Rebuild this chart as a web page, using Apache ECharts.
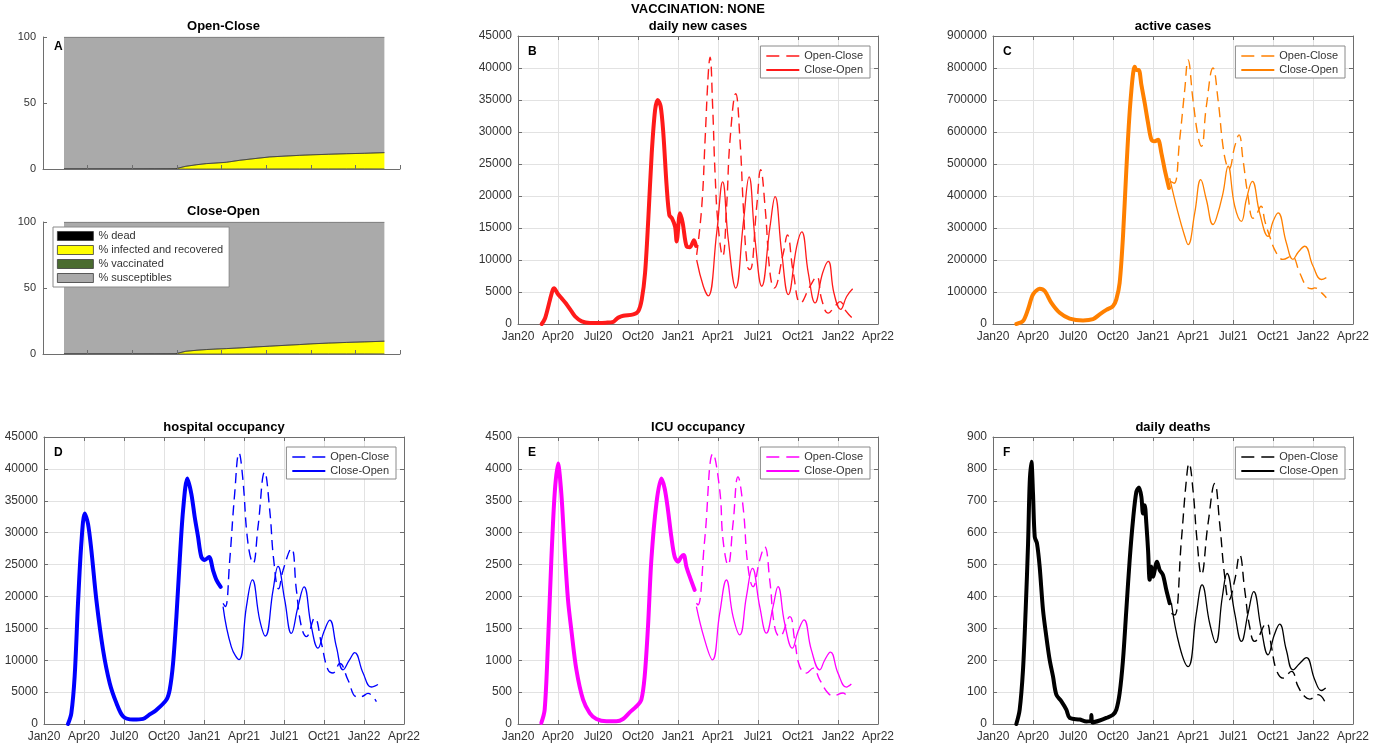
<!DOCTYPE html>
<html><head><meta charset="utf-8">
<script src="https://cdn.jsdelivr.net/npm/echarts@6/dist/echarts.min.js"></script>
<style>html,body{margin:0;padding:0;background:#fff;}#chart{width:1384px;height:748px;}</style>
</head><body><div id="chart"></div>
<script>
// ================= DATA =================
// x values of panels B-F: months since 1 Jan 2020
const tickLabels = ['Jan20','Apr20','Jul20','Oct20','Jan21','Apr21','Jul21','Oct21','Jan22','Apr22'];

// B daily new cases
const casesHist = [[1.78,0],[2.03,900],[2.4,3800],[2.6,5300],[2.72,5600],[2.85,5200],[3.02,4600],[3.28,4000],[3.6,3200],[4.0,2000],[4.28,1200],[4.78,400],[5.4,150],[6.0,150],[6.6,200],[7.15,350],[7.4,800],[7.52,1000],[7.9,1300],[8.65,1500],[9.02,2000],[9.28,3800],[9.53,8000],[9.77,16300],[10.03,26700],[10.28,33400],[10.48,35000],[10.7,34000],[10.9,29800],[11.15,21500],[11.35,17000],[11.55,16500],[11.78,15200],[11.9,12900],[12.15,17300],[12.35,15800],[12.65,12100],[12.9,12000],[13.2,13100],[13.35,12200]];
const casesOpenClose = [[13.4,10800],[13.78,18300],[14.03,28700],[14.27,39100],[14.4,41700],[14.6,33900],[14.78,23500],[15.02,15200],[15.35,10600],[15.65,18500],[15.9,28700],[16.33,36000],[16.65,28700],[16.9,18300],[17.2,9000],[17.4,8500],[17.9,18300],[18.2,24100],[18.53,18300],[18.9,8000],[19.2,5600],[19.9,11100],[20.2,13900],[20.65,8000],[21.2,3300],[21.9,5900],[22.4,7400],[22.78,3800],[23.27,1700],[23.78,2800],[24.15,3500],[24.6,2000],[25.03,1000]];
const casesCloseOpen = [[13.4,10000],[13.9,5900],[14.27,4400],[14.9,14200],[15.35,22200],[15.77,13200],[16.33,5600],[16.9,15800],[17.33,23000],[17.78,13200],[18.28,5900],[18.9,15200],[19.28,19900],[19.78,11100],[20.27,4600],[20.9,12100],[21.28,14400],[21.77,8000],[22.28,3300],[22.85,8000],[23.27,9800],[23.7,4800],[24.2,2300],[24.65,4300],[25.1,5500]];

// C active cases
const activeHist = [[1.75,0],[2.25,9000],[2.63,46000],[3.0,92000],[3.5,110000],[3.88,103000],[4.38,66000],[5.0,35000],[5.75,17000],[6.75,11000],[7.5,15000],[8.0,30000],[8.5,44000],[9.0,56000],[9.25,77000],[9.5,129000],[9.75,274000],[10.0,482000],[10.3,690000],[10.63,804000],[10.75,794000],[10.93,794000],[11.13,747000],[11.38,690000],[11.63,628000],[11.88,576000],[12.13,571000],[12.38,576000],[12.63,534000],[12.88,482000],[13.2,425000]];
const activeOpenClose = [[13.35,445000],[13.6,440000],[14.0,576000],[14.38,732000],[14.63,825000],[15.0,700000],[15.38,586000],[15.63,555000],[16.0,680000],[16.5,800000],[16.88,700000],[17.25,555000],[17.55,492000],[17.7,485000],[18.13,555000],[18.45,591000],[18.75,513000],[19.13,399000],[19.5,330000],[19.75,342000],[20.1,368000],[20.4,320000],[20.75,274000],[21.25,222000],[21.75,202000],[22.38,212000],[23.0,160000],[23.5,118000],[23.88,110000],[24.13,113000],[24.63,98000],[25.0,82000]];
const activeCloseOpen = [[13.25,456000],[13.88,347000],[14.38,274000],[14.63,248000],[15.13,347000],[15.58,451000],[16.0,389000],[16.5,311000],[16.75,330000],[17.25,409000],[17.63,493000],[18.13,368000],[18.63,321000],[19.0,389000],[19.45,446000],[20.0,347000],[20.63,274000],[21.0,320000],[21.38,347000],[22.0,254000],[22.5,202000],[22.9,225000],[23.38,243000],[24.0,181000],[24.63,139000],[25.0,145000]];

// D hospital occupancy
const hospHist = [[1.8,0],[2.05,1700],[2.3,7500],[2.55,18900],[2.8,28300],[3.05,33000],[3.3,31400],[3.55,27300],[3.93,19400],[4.43,11600],[4.93,6400],[5.43,3300],[5.93,1200],[6.68,700],[7.43,800],[7.93,1500],[8.43,2200],[9.18,3800],[9.43,5400],[9.68,9500],[9.93,16800],[10.18,25700],[10.43,33500],[10.75,38500],[11.05,36100],[11.3,32500],[11.55,29400],[11.8,26200],[12.05,25700],[12.38,26200],[12.68,24100],[12.93,22600],[13.25,21500]];
const hospOpenClose = [[13.43,18900],[13.6,18400],[13.93,25700],[14.3,36100],[14.63,42500],[14.9,38700],[15.3,28300],[15.68,25200],[16.05,30900],[16.55,39500],[16.93,33500],[17.23,25700],[17.6,21200],[17.93,24100],[18.55,27500],[18.93,21000],[19.3,15300],[19.68,13700],[20.3,16600],[20.8,12700],[21.3,8500],[21.68,8000],[22.18,9500],[22.8,6900],[23.43,4300],[23.8,4300],[24.3,4800],[24.93,3500]];
const hospCloseOpen = [[13.43,18400],[14.05,12100],[14.63,10100],[15.18,18400],[15.63,22600],[16.18,16300],[16.6,13800],[17.18,21000],[17.55,24700],[18.05,19500],[18.55,14200],[19.05,18400],[19.5,21500],[20.05,15300],[20.55,11900],[21.0,14500],[21.43,16300],[21.93,12100],[22.43,8500],[22.9,10000],[23.3,11200],[23.93,8000],[24.55,5800],[25.05,6200]];

// E ICU occupancy
const icuHist = [[1.75,16],[2.0,224],[2.25,1267],[2.5,2570],[2.75,3613],[3.0,4083],[3.25,3613],[3.5,2727],[3.75,1945],[4.0,1476],[4.38,850],[4.88,381],[5.38,172],[5.88,78],[6.63,42],[7.38,42],[7.88,78],[8.38,182],[8.88,276],[9.25,381],[9.5,746],[9.75,1528],[10.0,2570],[10.38,3457],[10.75,3848],[11.0,3692],[11.25,3353],[11.5,2935],[11.75,2623],[12.0,2544],[12.25,2623],[12.43,2649],[12.63,2466],[12.88,2310],[13.25,2101]];
const icuOpenClose = [[13.38,1893],[13.5,1867],[14.0,2884],[14.63,4241],[15.13,3667],[15.38,2884],[15.75,2493],[16.13,3146],[16.5,3875],[16.88,3406],[17.25,2467],[17.63,2154],[18.13,2571],[18.5,2779],[18.88,2258],[19.25,1527],[19.63,1371],[20.38,1684],[20.75,1319],[21.13,901],[21.63,798],[22.13,876],[22.63,693],[23.25,485],[23.63,443],[24.38,485],[24.75,407]];
const icuCloseOpen = [[13.38,1841],[14.0,1319],[14.58,1006],[15.13,1737],[15.63,2258],[16.13,1684],[16.63,1397],[17.13,1997],[17.58,2441],[18.13,1840],[18.63,1424],[19.13,1840],[19.5,2153],[20.0,1580],[20.58,1189],[21.0,1450],[21.45,1632],[22.0,1163],[22.63,850],[23.0,1000],[23.43,1127],[24.0,798],[24.63,579],[25.0,626]];

// F daily deaths
const deathHist = [[1.75,0],[2.0,45],[2.25,170],[2.45,358],[2.63,566],[2.75,754],[2.88,822],[3.0,723],[3.13,587],[3.3,566],[3.5,493],[3.75,358],[4.0,274],[4.25,201],[4.5,149],[4.75,92],[5.13,71],[5.5,45],[5.75,19],[6.5,14],[7.0,8],[7.35,10],[7.38,28],[7.45,5],[8.0,11],[8.5,19],[9.0,29],[9.25,45],[9.5,97],[9.75,201],[10.0,358],[10.25,514],[10.5,639],[10.75,728],[10.95,742],[11.13,712],[11.25,660],[11.38,686],[11.5,629],[11.63,545],[11.75,452],[11.88,493],[12.0,462],[12.3,509],[12.5,483],[12.75,467],[13.0,420],[13.25,379]];
const deathOpenClose = [[13.38,347],[13.63,342],[14.13,577],[14.5,764],[14.7,817],[15.0,733],[15.3,577],[15.63,468],[16.13,629],[16.63,754],[17.0,629],[17.38,462],[17.7,389],[18.13,451],[18.5,530],[18.88,420],[19.25,305],[19.63,259],[20.5,316],[20.88,243],[21.25,170],[21.75,144],[22.38,165],[22.88,118],[23.38,86],[23.75,78],[24.38,92],[24.88,71]];
const deathCloseOpen = [[13.38,379],[14.0,243],[14.63,180],[15.25,347],[15.68,436],[16.25,316],[16.7,255],[17.2,399],[17.55,472],[18.13,347],[18.63,259],[19.13,347],[19.55,415],[20.13,295],[20.63,217],[21.1,280],[21.5,313],[22.0,232],[22.5,170],[23.0,190],[23.5,208],[24.13,139],[24.63,105],[24.95,113]];

// A population shares (%), x = simulation day
const aDays      = [47, 100, 150, 200, 250, 296, 320, 345, 366, 390, 411, 441, 475, 508, 540, 575, 605, 640, 680, 720, 765];
const ocDead     = [0, 0.01, 0.02, 0.02, 0.03, 0.04, 0.05, 0.06, 0.07, 0.08, 0.09, 0.1, 0.11, 0.13, 0.14, 0.15, 0.16, 0.17, 0.18, 0.19, 0.2];
const ocInfected = [0, 0, 0, 0, 0, 0.1, 2.0, 3.2, 4.0, 4.5, 5.0, 6.5, 7.8, 9.0, 9.6, 10.2, 10.6, 11.0, 11.4, 11.7, 12.2];
const ocVacc     = [0, 0, 0, 0, 0, 0, 0, 0, 0, 0, 0, 0, 0, 0, 0, 0, 0, 0, 0, 0, 0];
const ocSusc     = [100, 99.99, 99.98, 99.98, 99.97, 99.86, 97.95, 96.74, 95.93, 95.42, 94.91, 93.4, 92.09, 90.87, 90.26, 89.65, 89.24, 88.83, 88.42, 88.11, 87.6];
const coDead     = [0, 0.01, 0.02, 0.02, 0.03, 0.04, 0.05, 0.06, 0.07, 0.08, 0.09, 0.1, 0.11, 0.12, 0.13, 0.14, 0.15, 0.16, 0.17, 0.18, 0.19];
const coInfected = [0, 0, 0, 0, 0, 0.1, 2.0, 2.8, 3.3, 3.7, 4.0, 4.5, 5.2, 5.8, 6.4, 7.0, 7.6, 8.1, 8.6, 9.0, 9.5];
const coVacc     = [0, 0, 0, 0, 0, 0, 0, 0, 0, 0, 0, 0, 0, 0, 0, 0, 0, 0, 0, 0, 0];
const coSusc     = [100, 99.99, 99.98, 99.98, 99.97, 99.86, 97.95, 97.14, 96.63, 96.22, 95.91, 95.4, 94.69, 94.08, 93.47, 92.86, 92.25, 91.74, 91.23, 90.82, 90.31];
const layerNames = ['% dead', '% infected and recovered', '% vaccinated', '% susceptibles'];

// ================= BUILD =================
const FONT = "'Liberation Sans', Arial, Helvetica, sans-serif";
const AXC = '#6e6e6e', LBL = '#333333', GRIDC = '#e2e2e2';
const DAY = 86400000;
const layerColors = ['#000000', '#ffff00', '#4a6b2f', '#aaaaaa'];
const option = { animation: false, backgroundColor: '#ffffff', grid: [], xAxis: [], yAxis: [], series: [], legend: [], title: [] };

function addText(text, left, top, size, align) {
  option.title.push({ text, left, top, textAlign: align, padding: 0,
    textStyle: { fontFamily: FONT, fontSize: size, fontWeight: 'bold', color: '#000' } });
}
const strip = n => n.split('|')[1];

addText('VACCINATION: NONE', 698, 3, 13, 'center');

// ---- panel A (two stacked-area sub plots) ----
const aPanels = [
  { id: 'A1', title: 'Open-Close', rect: { left: 43, top: 37, width: 357, height: 132 }, layers: [ocDead, ocInfected, ocVacc, ocSusc], letter: 'A' },
  { id: 'A2', title: 'Close-Open', rect: { left: 43, top: 222, width: 357, height: 132 }, layers: [coDead, coInfected, coVacc, coSusc], legend: true }
];
aPanels.forEach(p => {
  const g = option.grid.length;
  option.grid.push(Object.assign({ outerBoundsMode: 'none', containLabel: false }, p.rect));
  const xt = option.xAxis.length;
  option.xAxis.push({ type: 'time', gridIndex: g, position: 'bottom', min: 0, max: 800 * DAY, show: false });
  option.xAxis.push({ type: 'value', gridIndex: g, position: 'bottom', offset: 0, min: 0, max: 800, interval: 100, z: 5,
    axisLine: { show: true, onZero: false, lineStyle: { color: AXC, width: 1 } },
    axisTick: { show: true, inside: true, length: 4, lineStyle: { color: AXC } },
    axisLabel: { show: false }, splitLine: { show: false } });
  const y = option.yAxis.length;
  option.yAxis.push({ type: 'value', gridIndex: g, position: 'left', min: 0, max: 100, interval: 50, z: 5,
    axisLine: { show: true, onZero: false, lineStyle: { color: AXC, width: 1 } },
    axisTick: { show: true, inside: true, length: 4, lineStyle: { color: AXC } },
    axisLabel: { color: LBL, fontSize: 11, fontFamily: FONT, margin: 7 },
    splitLine: { show: false } });
  p.layers.forEach((arr, k) => {
    option.series.push({ type: 'line', name: p.id + '|' + layerNames[k], xAxisIndex: xt, yAxisIndex: y,
      stack: p.id, symbol: 'none', showSymbol: false, silent: true,
      data: aDays.map((d, i) => [d * DAY, arr[i]]),
      lineStyle: { width: 0.6, color: '#303030' },
      itemStyle: { color: layerColors[k] },
      areaStyle: { color: layerColors[k], opacity: 1 } });
  });
  addText(p.title, p.rect.left + p.rect.width / 2 + 2, p.rect.top - 17, 13, 'center');
  if (p.letter) addText(p.letter, p.rect.left + 11, p.rect.top + 4, 12, 'left');
  if (p.legend) {
    option.legend.push({ orient: 'vertical', left: 53, top: 227, selectedMode: false,
      padding: [3, 6, 3, 4], itemGap: 2, itemWidth: 36, itemHeight: 9,
      backgroundColor: '#ffffff', borderColor: '#8a8a8a', borderWidth: 1,
      formatter: strip,
      textStyle: { fontFamily: FONT, fontSize: 11, color: LBL, lineHeight: 12 },
      data: layerNames.map((n, k) => ({ name: p.id + '|' + n, icon: 'rect',
        itemStyle: { color: layerColors[k], borderColor: '#3a3a3a', borderWidth: 0.8, opacity: 1 } })) });
  }
});

// ---- panels B-F ----
const panels = [
  { key: 'B', title: 'daily new cases', color: '#ff1a1a', rect: { left: 518, top: 36, width: 360, height: 288 }, yMax: 45000, yInt: 5000, hist: casesHist, oc: casesOpenClose, co: casesCloseOpen },
  { key: 'C', title: 'active cases', color: '#ff8000', rect: { left: 993, top: 36, width: 360, height: 288 }, yMax: 900000, yInt: 100000, hist: activeHist, oc: activeOpenClose, co: activeCloseOpen },
  { key: 'D', title: 'hospital occupancy', color: '#0000ff', rect: { left: 44, top: 437, width: 360, height: 287 }, yMax: 45000, yInt: 5000, hist: hospHist, oc: hospOpenClose, co: hospCloseOpen },
  { key: 'E', title: 'ICU occupancy', color: '#ff00ff', rect: { left: 518, top: 437, width: 360, height: 287 }, yMax: 4500, yInt: 500, hist: icuHist, oc: icuOpenClose, co: icuCloseOpen },
  { key: 'F', title: 'daily deaths', color: '#000000', rect: { left: 993, top: 437, width: 360, height: 287 }, yMax: 900, yInt: 100, hist: deathHist, oc: deathOpenClose, co: deathCloseOpen }
];
panels.forEach(p => {
  const g = option.grid.length;
  option.grid.push(Object.assign({ outerBoundsMode: 'none', containLabel: false }, p.rect));
  const axLine = { show: true, onZero: false, lineStyle: { color: AXC, width: 1 } };
  const axTick = { show: true, inside: true, length: 4, lineStyle: { color: AXC } };
  const xb = option.xAxis.length;
  option.xAxis.push({ type: 'value', gridIndex: g, position: 'bottom', min: 0, max: 27, interval: 3,
    axisLine: axLine, axisTick: axTick,
    axisLabel: { color: LBL, fontSize: 12, fontFamily: FONT, margin: 7, showMinLabel: true, showMaxLabel: true,
      formatter: v => tickLabels[Math.round(v / 3)] || '' },
    splitLine: { show: true, lineStyle: { color: GRIDC, width: 1 } } });
  option.xAxis.push({ type: 'value', gridIndex: g, position: 'top', min: 0, max: 27, interval: 3,
    axisLine: axLine, axisTick: axTick, axisLabel: { show: false }, splitLine: { show: false } });
  const yl = option.yAxis.length;
  option.yAxis.push({ type: 'value', gridIndex: g, position: 'left', min: 0, max: p.yMax, interval: p.yInt,
    axisLine: axLine, axisTick: axTick,
    axisLabel: { color: LBL, fontSize: 12, fontFamily: FONT, margin: 6, formatter: v => String(v) },
    splitLine: { show: true, lineStyle: { color: GRIDC, width: 1 } } });
  option.yAxis.push({ type: 'value', gridIndex: g, position: 'right', min: 0, max: p.yMax, interval: p.yInt,
    axisLine: axLine, axisTick: axTick, axisLabel: { show: false }, splitLine: { show: false } });

  const common = { type: 'line', xAxisIndex: xb, yAxisIndex: yl, symbol: 'none', showSymbol: false, silent: true,
    itemStyle: { color: p.color } };
  option.series.push(Object.assign({}, common, { name: p.key + '|data', data: p.hist, smooth: 0.3, z: 4,
    lineStyle: { width: 4, color: p.color, cap: 'round', join: 'round' } }));
  option.series.push(Object.assign({}, common, { name: p.key + '|Open-Close', data: p.oc, smooth: 0.45, z: 3,
    lineStyle: { width: 1.4, color: p.color, type: [10, 6] } }));
  option.series.push(Object.assign({}, common, { name: p.key + '|Close-Open', data: p.co, smooth: 0.45, z: 3,
    lineStyle: { width: 1.3, color: p.color } }));

  option.legend.push({ orient: 'vertical', right: 1384 - (p.rect.left + p.rect.width - 8), top: p.rect.top + 10,
    selectedMode: false, padding: [4, 7, 2, 5], itemGap: 2, itemWidth: 33, itemHeight: 10,
    backgroundColor: '#ffffff', borderColor: '#8a8a8a', borderWidth: 1, formatter: strip,
    itemStyle: { opacity: 0 },
    lineStyle: { width: 1.6 },
    textStyle: { fontFamily: FONT, fontSize: 11, color: LBL, lineHeight: 12 },
    data: [{ name: p.key + '|Open-Close', lineStyle: { type: [13, 7], width: 1.6 } },
           { name: p.key + '|Close-Open', lineStyle: { width: 1.8 } }] });

  addText(p.title, p.rect.left + p.rect.width / 2, p.rect.top - 16, 13, 'center');
  addText(p.key, p.rect.left + 10, p.rect.top + 10, 12, 'left');
});

const chart = echarts.init(document.getElementById('chart'), null, { renderer: 'canvas', width: 1384, height: 748 });
chart.setOption(option);
</script></body></html>
